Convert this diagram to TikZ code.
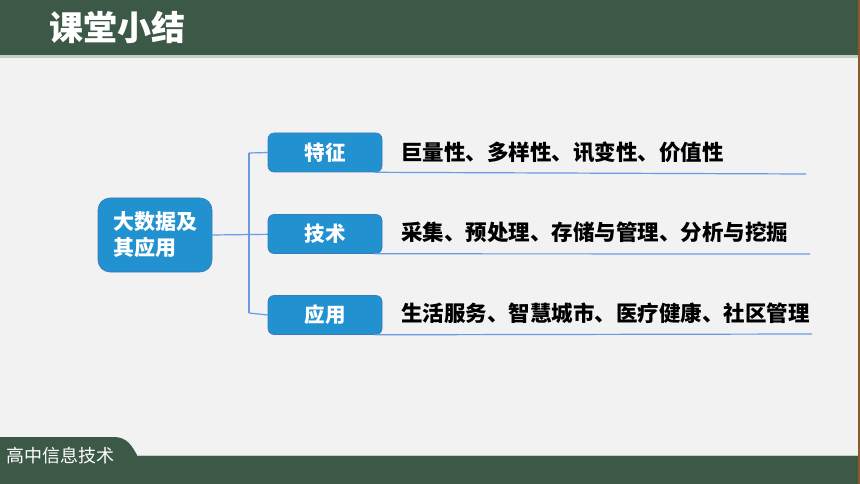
\documentclass[tikz,border=0pt]{standalone}
\usepackage{fontspec}
\newfontfamily\cjk{Noto Sans CJK SC}
\definecolor{bargreen}{HTML}{3C5846}
\definecolor{bglight}{HTML}{F2F2F2}
\definecolor{boxblue}{HTML}{2191D0}
\definecolor{boxedge}{HTML}{3A7AB8}
\definecolor{linkblue}{HTML}{6A9AE6}
\definecolor{edgebrown}{HTML}{8A5A2A}
\tikzset{
  topic/.style={draw=boxedge, line width=0.6pt, fill=boxblue, rounded corners=6pt,
    minimum width=114pt, minimum height=39pt, inner sep=0pt, text=white,
    font=\cjk\bfseries\fontsize{20.5pt}{24pt}\selectfont},
  mainbox/.style={topic, minimum width=114pt, minimum height=74pt, rounded corners=12pt,
    align=left, font=\cjk\bfseries\fontsize{21pt}{28pt}\selectfont},
  detail/.style={anchor=west, inner sep=0pt, text=black, font=\cjk\bfseries\fontsize{21.5pt}{24pt}\selectfont},
  link/.style={draw=linkblue, line width=1.2pt},
}
\begin{document}
\begin{tikzpicture}[x=1pt,y=-1pt]
\useasboundingbox (0,0) rectangle (860,484);
% background
\fill[bglight] (0,0) rectangle (860,484);
\fill[bargreen] (0,0) rectangle (858,55.5);
\fill[white!70!bargreen] (0,55.5) rectangle (858,58);
\fill[bargreen] (0,455) rectangle (858,484);
\fill[bargreen] (0,437) -- (114,437) .. controls (127,437) and (132,446) .. (137,455) -- (137,484) -- (0,484) -- cycle;
\draw[white!70!bargreen, line width=1pt] (137,455) -- (858,455);
\fill[edgebrown] (857.5,0) rectangle (860,484);
% title
\node[anchor=west, text=white, inner sep=0pt, font=\cjk\bfseries\fontsize{34pt}{36pt}\selectfont] (title) at (49,27) {课堂小结};
\node[anchor=west, text=white, inner sep=0pt, font=\cjk\fontsize{18pt}{20pt}\selectfont] (footer) at (6,455.5) {高中信息技术};
% connectors
\coordinate (jt) at (249,153);
\coordinate (jb) at (249,313);
\coordinate (jm) at (249,234);
\draw[link] (jt) -- (jb);
% nodes
\node[mainbox] (main) at (155,235) {大数据及\\[-2pt]其应用};
\draw[link] (main.east) -- (294,234);
\node[topic] (t1) at (325,152.5) {特征};
\node[topic] (t2) at (325,234) {技术};
\node[topic] (t3) at (325,315) {应用};
\draw[link] (jt) -- (t1.west);
\draw[link] (jb) -- (t3.west);
\coordinate (e1) at (806,174);
\coordinate (e2) at (810,254);
\coordinate (e3) at (812,334);
\draw[link] (t1.south east) ++(-8,0) -- (e1);
\draw[link] (t2.south east) ++(-8,0) -- (e2);
\draw[link] (t3.south east) ++(-8,0) -- (e3);
\node[detail] (d1) at (401,152) {巨量性、多样性、讯变性、价值性};
\node[detail] (d2) at (401,232) {采集、预处理、存储与管理、分析与挖掘};
\node[detail] (d3) at (401,313) {生活服务、智慧城市、医疗健康、社区管理};
\end{tikzpicture}
\end{document}
